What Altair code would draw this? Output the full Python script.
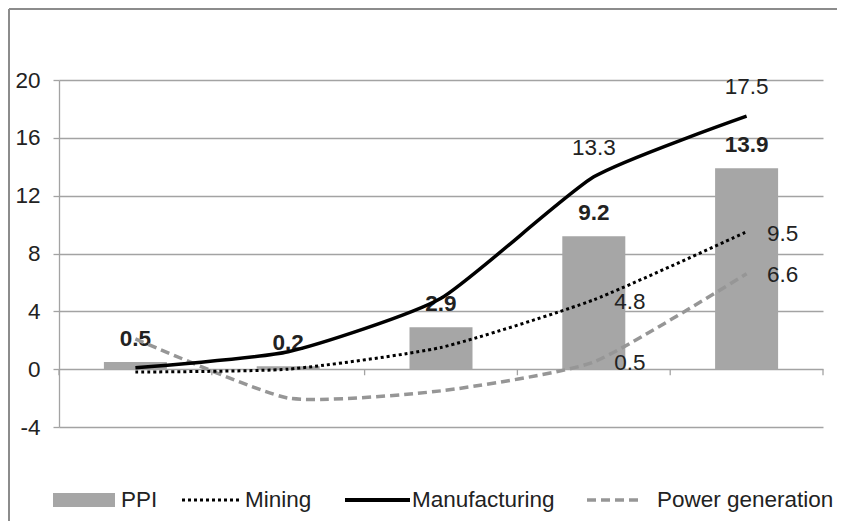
import altair as alt
import pandas as pd

categories = ["Jan", "Jan-Feb", "Jan-Mar", "Jan-Apr", "Jan-May"]
ppi = [0.5, 0.2, 2.9, 9.2, 13.9]
mining = [-0.2, 0.0, 1.5, 4.8, 9.5]
manufacturing = [0.1, 1.2, 4.9, 13.3, 17.5]
power = [2.1, -2.0, -1.5, 0.5, 6.6]
labelled_periods = ["Jan-Apr", "Jan-May"]
y_ticks = [-4, 0, 4, 8, 12, 16, 20]
legend_names = ["PPI", "Mining", "Manufacturing", "Power generation"]

df = pd.DataFrame({
    "cat": categories,
    "PPI": ppi,
    "Mining": mining,
    "Manufacturing": manufacturing,
    "Power": power,
})
lab_df = df[df["cat"].isin(labelled_periods)]

FONT = "Liberation Sans"
FS = 22.5
TXT = "#222222"
GRID = "#a3a3a3"
W, H = 764, 347
INTERP = "cardinal"
TENSION = 0.45

xscale = alt.Scale(domain=categories, paddingInner=0, paddingOuter=0)
yscale = alt.Scale(domain=[-4, 20], nice=False, zero=False)


def X(**kw):
    return alt.X("cat:N", scale=xscale, sort=categories, title=None,
                 axis=alt.Axis(domain=False, ticks=False, grid=False,
                               labelPadding=12, labelFontSize=FS, labelFont=FONT,
                               labelColor=TXT), **kw)


def Y(field):
    return alt.Y(f"{field}:Q", scale=yscale, title=None,
                 axis=alt.Axis(values=y_ticks, grid=True, gridColor=GRID, gridWidth=1.3,
                               domainColor=GRID, domainWidth=1.3, tickColor=GRID,
                               tickSize=6, tickWidth=1.3, labelPadding=13,
                               labelExpr="replace(datum.label, '\u2212', '-')",
                               labelFontSize=FS, labelFont=FONT, labelColor=TXT))


base = alt.Chart(df)
one = alt.Chart(pd.DataFrame({"a": [0]}))

border_top = one.mark_rule(color="#8c8c8c", strokeWidth=2).encode(
    x=alt.value(-50), x2=alt.value(W + 14), y=alt.value(-71))
border_left = one.mark_rule(color="#8c8c8c", strokeWidth=2).encode(
    x=alt.value(-50), y=alt.value(-71), y2=alt.value(H + 94))

bars = base.mark_bar(color="#a6a6a6", width=63).encode(x=X(), y=Y("PPI"))
ppi_labels = base.mark_text(font=FONT, fontSize=FS, fontWeight="bold", color=TXT,
                            dy=-23, baseline="middle").encode(
    x=X(), y=Y("PPI"), text=alt.Text("PPI:Q", format=".1f"))

tick_df = pd.DataFrame({"cat": categories})
ticks_a = alt.Chart(tick_df).mark_rule(color=GRID, strokeWidth=1.3).encode(
    x=alt.X("cat:N", scale=xscale, sort=categories, bandPosition=0, axis=None),
    y=alt.datum(0, scale=yscale), y2=alt.datum(-0.42))
ticks_b = alt.Chart(tick_df.tail(1)).mark_rule(color=GRID, strokeWidth=1.3).encode(
    x=alt.X("cat:N", scale=xscale, sort=categories, bandPosition=1, axis=None),
    y=alt.datum(0, scale=yscale), y2=alt.datum(-0.42))

line_power = base.mark_line(color="#969696", strokeWidth=3.5, strokeDash=[9, 5],
                            interpolate=INTERP, tension=TENSION).encode(x=X(), y=Y("Power"))
line_mining = base.mark_line(color="#000000", strokeWidth=3, strokeDash=[3, 3],
                             interpolate=INTERP, tension=TENSION).encode(x=X(), y=Y("Mining"))
line_manu = base.mark_line(color="#000000", strokeWidth=3.5,
                           interpolate=INTERP, tension=TENSION).encode(x=X(), y=Y("Manufacturing"))

lab = alt.Chart(lab_df)
manu_labels = lab.mark_text(font=FONT, fontSize=FS, color=TXT, dy=-29, baseline="middle").encode(
    x=X(), y=Y("Manufacturing"), text=alt.Text("Manufacturing:Q", format=".1f"))
mining_labels = lab.mark_text(font=FONT, fontSize=FS, color=TXT, dx=36, dy=2, baseline="middle").encode(
    x=X(), y=Y("Mining"), text=alt.Text("Mining:Q", format=".1f"))
power_labels = lab.mark_text(font=FONT, fontSize=FS, color=TXT, dx=36, dy=1, baseline="middle").encode(
    x=X(), y=Y("Power"), text=alt.Text("Power:Q", format=".1f"))

LY = 420
leg_ppi_sw = one.mark_rect(color="#a6a6a6").encode(
    x=alt.value(-6), x2=alt.value(56), y=alt.value(LY - 7), y2=alt.value(LY + 7))
leg_min_sw = one.mark_rule(color="#000000", strokeWidth=3, strokeDash=[3, 3]).encode(
    x=alt.value(123), x2=alt.value(181), y=alt.value(LY))
leg_man_sw = one.mark_rule(color="#000000", strokeWidth=4).encode(
    x=alt.value(286), x2=alt.value(351), y=alt.value(LY))
leg_pow_sw = one.mark_rule(color="#969696", strokeWidth=3.5, strokeDash=[9, 5]).encode(
    x=alt.value(528), x2=alt.value(583), y=alt.value(LY))

leg_text = []
for name, xpos in zip(legend_names, [62, 186, 353, 598]):
    leg_text.append(
        alt.Chart(pd.DataFrame({"t": [name]})).mark_text(
            font=FONT, fontSize=FS, color=TXT, align="left", baseline="middle").encode(
            x=alt.value(xpos), y=alt.value(LY), text="t:N"))

chart = alt.layer(
    border_top, border_left, bars, ticks_a, ticks_b, ppi_labels,
    line_power, line_mining, line_manu,
    manu_labels, mining_labels, power_labels,
    leg_ppi_sw, leg_min_sw, leg_man_sw, leg_pow_sw, *leg_text,
).properties(
    width=W, height=H,
    autosize=alt.AutoSizeParams(type="none"),
    padding={"left": 51, "top": 72, "right": 14, "bottom": 94},
).configure_view(stroke=None)

chart.save("out.html", embed_options={"renderer": "svg", "actions": False})
